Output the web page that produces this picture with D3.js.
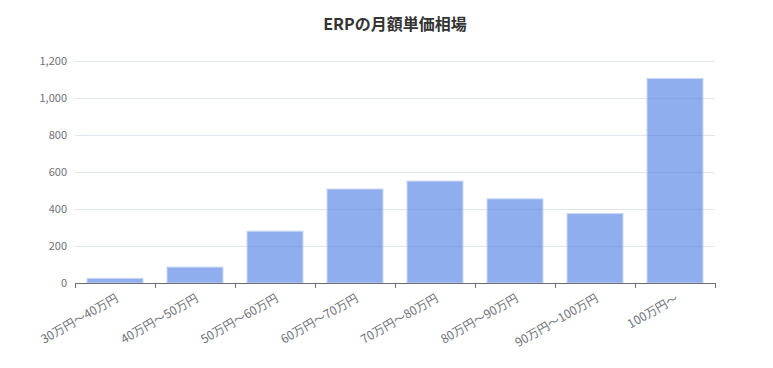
<!DOCTYPE html>
<html>
<head>
<meta charset="utf-8">
<script src="https://cdn.jsdelivr.net/npm/d3@7"></script>
<style>
  body { margin: 0; background: #fff; }
  text { font-family: "Noto Sans CJK JP", "Noto Sans", sans-serif; }
</style>
</head>
<body>
<div id="chart"></div>
<script>
var categories = ["30万円〜40万円", "40万円〜50万円", "50万円〜60万円", "60万円〜70万円",
  "70万円〜80万円", "80万円〜90万円", "90万円〜100万円", "100万円〜"];
var values = [25, 86, 280, 508, 551, 455, 375, 1105];
var yTicks = [0, 200, 400, 600, 800, 1000, 1200];

var width = 773, height = 368;
var margin = {top: 61, right: 58, bottom: 85, left: 75};

var svg = d3.select("#chart").append("svg")
  .attr("width", width).attr("height", height);

svg.append("text")
  .attr("x", 395).attr("y", 30)
  .attr("text-anchor", "middle")
  .attr("font-size", 16).attr("font-weight", "bold")
  .attr("fill", "#333")
  .text("ERPの月額単価相場");

var x = d3.scaleBand().domain(categories)
  .range([margin.left, width - margin.right])
  .paddingInner(0.3).paddingOuter(0.15);

var y = d3.scaleLinear().domain([0, 1200])
  .range([height - margin.bottom, margin.top]);

// grid
svg.append("g").selectAll("line").data(yTicks.slice(1)).enter().append("line")
  .attr("x1", margin.left).attr("x2", width - margin.right)
  .attr("y1", function(d) { return y(d) + 0.5; })
  .attr("y2", function(d) { return y(d) + 0.5; })
  .attr("stroke", "#e0e6f1");

// y labels
svg.append("g").selectAll("text").data(yTicks).enter().append("text")
  .attr("x", margin.left - 8)
  .attr("y", function(d) { return y(d); })
  .attr("dy", "0.35em")
  .attr("text-anchor", "end")
  .attr("font-size", 11).attr("fill", "#6e7079")
  .text(function(d) { return d3.format(",")(d); });

// bars
svg.append("g").selectAll("rect").data(values).enter().append("rect")
  .attr("x", function(d, i) { return x(categories[i]); })
  .attr("y", function(d) { return y(d); })
  .attr("width", x.bandwidth())
  .attr("height", function(d) { return y(0) - y(d); })
  .attr("fill", "#5b86e5").attr("fill-opacity", 0.68)
  .attr("stroke", "#c9d7f6").attr("stroke-width", 1);

// x axis
var boundaries = d3.range(categories.length + 1).map(function(i) {
  return margin.left + i * (width - margin.left - margin.right) / categories.length;
});
var axis = svg.append("g");
axis.append("line")
  .attr("x1", margin.left).attr("x2", width - margin.right)
  .attr("y1", y(0) + 0.5).attr("y2", y(0) + 0.5)
  .attr("stroke", "#6e7079");
axis.selectAll("line.tick").data(boundaries).enter().append("line")
  .attr("class", "tick")
  .attr("x1", function(d) { return Math.round(d) + 0.5; })
  .attr("x2", function(d) { return Math.round(d) + 0.5; })
  .attr("y1", y(0)).attr("y2", y(0) + 5)
  .attr("stroke", "#6e7079");
axis.selectAll("text").data(categories).enter().append("text")
  .attr("transform", function(d) {
    var cx = x(d) + x.bandwidth() / 2 + 2;
    return "translate(" + cx + "," + (y(0) + 14) + ") rotate(-30)";
  })
  .attr("text-anchor", "end")
  .attr("dy", "0.35em")
  .attr("font-size", 12).attr("fill", "#6e7079")
  .text(function(d) { return d; });
</script>
</body>
</html>
